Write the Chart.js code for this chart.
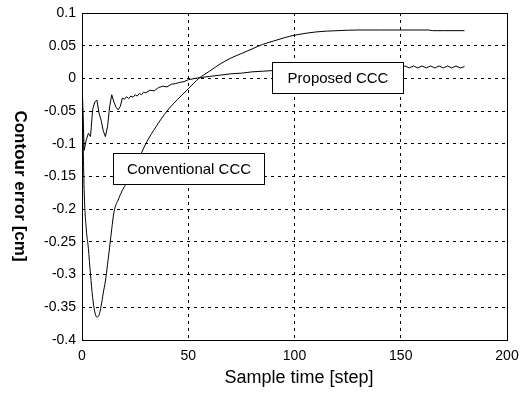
<!DOCTYPE html>
<html>
<head>
<meta charset="utf-8">
<script src="https://cdn.jsdelivr.net/npm/chart.js@4.4.1/dist/chart.umd.min.js"></script>
<style>
  html, body { margin: 0; padding: 0; background: #fff; }
  #wrap { width: 521px; height: 394px; position: relative; }
</style>
</head>
<body>
<div id="wrap"><canvas id="c"></canvas></div>
<script>
// ─── Data ─────────────────────────────────────────────────────────────────

const X_TICKS = [0, 50, 100, 150, 200];
const Y_MIN = -0.4, Y_MAX = 0.1, Y_STEP = 0.05;

const convX = [0, 1, 2, 3, 4, 5, 6, 7, 8, 9, 10, 11, 12, 13, 14, 15, 16, 17, 18, 20,
  22, 25, 28, 30, 35, 40, 45, 50, 55, 60, 65, 70, 75, 80, 85, 90, 95, 100, 110,
  120, 130, 140, 150, 160, 163, 165, 170, 180];
const convY = [0, -0.17, -0.23, -0.26, -0.30, -0.335, -0.357, -0.365, -0.362, -0.348,
  -0.328, -0.31, -0.285, -0.258, -0.23, -0.205, -0.193, -0.186, -0.178, -0.165,
  -0.155, -0.138, -0.114, -0.10, -0.073, -0.05, -0.032, -0.016, 0, 0.011, 0.022,
  0.031, 0.038, 0.045, 0.052, 0.057, 0.062, 0.066, 0.071, 0.073, 0.074, 0.074,
  0.074, 0.074, 0.074, 0.073, 0.073, 0.073];

const propX = [0, 1, 2, 3, 4, 5, 6, 7, 8, 9, 10, 11, 12, 13, 14, 15, 16, 17, 18, 19,
  20, 21, 22, 23, 24, 25, 26, 27, 28, 29, 30, 32, 34, 36, 38, 40, 42, 44, 46, 48,
  50, 55, 60, 65, 70, 75, 80, 85, 90, 95, 100, 110, 120, 130, 140, 150,
  152, 154, 156, 158, 160, 162, 164, 166, 168, 170, 172, 174, 176, 178, 180];
const propY = [0, -0.11, -0.094, -0.084, -0.089, -0.048, -0.036, -0.033, -0.053, -0.064,
  -0.080, -0.089, -0.074, -0.043, -0.025, -0.036, -0.044, -0.048, -0.043, -0.030,
  -0.032, -0.028, -0.031, -0.027, -0.029, -0.025, -0.027, -0.023, -0.025, -0.021,
  -0.022, -0.018, -0.019, -0.014, -0.012, -0.013, -0.009, -0.008, -0.006, -0.005,
  -0.002, 0.001, 0.003, 0.005, 0.007, 0.008, 0.010, 0.011, 0.012, 0.013, 0.014,
  0.015, 0.016, 0.016, 0.017, 0.017,
  0.019, 0.016, 0.019, 0.016, 0.019, 0.016, 0.019, 0.016, 0.019, 0.016, 0.019,
  0.016, 0.019, 0.016, 0.018];

const NOTE_TEXT = ['Conventional CCC', 'Proposed CCC'];
const NOTE_X = [14.6, 89.2];      // left edge of box, in data units
const NOTE_Y = [-0.114, 0.025];   // top edge of box, in data units

const X_TITLE = 'Sample time [step]';
const Y_TITLE = 'Contour error [cm]';

// ─── Helpers ──────────────────────────────────────────────────────────────

const FONT = "'Liberation Sans', Arial, sans-serif";
const NOTE_W = [151, 131];
const pts = (xs, ys) => xs.map((x, i) => ({ x, y: ys[i] }));

const framePlugin = {
  id: 'frame',
  afterDatasetsDraw(chart) {
    const { ctx, chartArea: a, scales } = chart;
    ctx.save();
    // text boxes
    ctx.font = `15px ${FONT}`;
    ctx.textBaseline = 'middle';
    NOTE_TEXT.forEach((t, i) => {
      const x = Math.round(scales.x.getPixelForValue(NOTE_X[i])) + 0.5;
      const y = Math.round(scales.y.getPixelForValue(NOTE_Y[i])) + 0.5;
      const w = NOTE_W[i];
      const h = 31;
      ctx.fillStyle = '#fff';
      ctx.fillRect(x, y, w, h);
      ctx.strokeStyle = '#000';
      ctx.lineWidth = 1;
      ctx.strokeRect(x, y, w, h);
      ctx.fillStyle = '#000';
      ctx.textAlign = 'center';
      ctx.fillText(t, x + w / 2, y + h / 2 + 1);
    });
    // frame
    ctx.strokeStyle = '#000';
    ctx.lineWidth = 1;
    ctx.strokeRect(Math.round(a.left) + 0.5, Math.round(a.top) + 0.5,
      Math.round(a.right - a.left), Math.round(a.bottom - a.top));
    // axis titles
    ctx.fillStyle = '#000';
    ctx.textAlign = 'center';
    ctx.textBaseline = 'middle';
    ctx.font = `18px ${FONT}`;
    ctx.fillText(X_TITLE, 299, 378);
    ctx.font = `bold 17px ${FONT}`;
    ctx.translate(20, 186);
    ctx.rotate(Math.PI / 2);
    ctx.fillText(Y_TITLE, 0, 0);
    ctx.restore();
  },
};

// ─── Chart ────────────────────────────────────────────────────────────────

const lineStyle = {
  borderColor: '#000',
  backgroundColor: 'transparent',
  borderWidth: 1,
  pointRadius: 0,
  fill: false,
};

new Chart(document.getElementById('c'), {
  type: 'line',
  data: {
    datasets: [
      { ...lineStyle, label: 'Conventional CCC', data: pts(convX, convY), cubicInterpolationMode: 'monotone' },
      { ...lineStyle, label: 'Proposed CCC', data: pts(propX, propY), tension: 0 },
    ],
  },
  options: {
    responsive: true,
    maintainAspectRatio: false,
    animation: false,
    events: [],
    layout: { padding: { left: 0, right: 14, top: 13, bottom: 0 } },
    plugins: { legend: { display: false }, tooltip: { enabled: false } },
    scales: {
      x: {
        type: 'linear',
        min: 0, max: 200,
        afterBuildTicks: s => { s.ticks = X_TICKS.map(v => ({ value: v })); },
        afterFit: s => { s.height = 54; s.paddingLeft = 0; s.paddingRight = 0; },
        grid: { color: '#000', lineWidth: 1, drawTicks: false },
        border: { display: false, dash: [3, 4] },
        ticks: { color: '#000', padding: 8, font: { family: FONT, size: 14 }, maxRotation: 0 },
      },
      y: {
        type: 'linear',
        min: Y_MIN, max: Y_MAX,
        afterFit: s => { s.width = 82; s.paddingTop = 0; s.paddingBottom = 0; },
        grid: { color: '#000', lineWidth: 1, drawTicks: false },
        border: { display: false, dash: [3, 4] },
        ticks: {
          stepSize: Y_STEP,
          color: '#000',
          padding: 6,
          font: { family: FONT, size: 14 },
          callback: v => String(Number(v.toFixed(2))),
        },
      },
    },
  },
  plugins: [framePlugin],
});
</script>
</body>
</html>
